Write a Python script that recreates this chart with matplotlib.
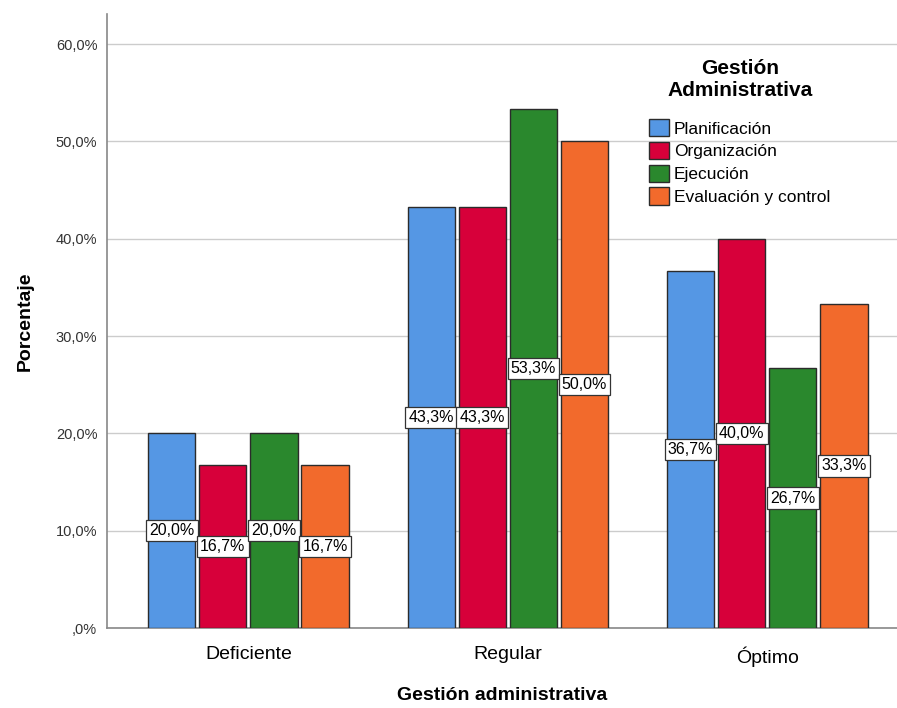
import numpy as np
import matplotlib.pyplot as plt
from matplotlib.ticker import FuncFormatter

# Datos del gráfico de barras agrupadas
categorias = ['Deficiente', 'Regular', 'Óptimo']
series = ['Planificación', 'Organización', 'Ejecución', 'Evaluación y control']
planificacion = [20.0, 43.3, 36.7]
organizacion = [16.7, 43.3, 40.0]
ejecucion = [20.0, 53.3, 26.7]
evaluacion = [16.7, 50.0, 33.3]
valores = [planificacion, organizacion, ejecucion, evaluacion]
colores = ['#5597E4', '#D7003A', '#2A882D', '#F26A2C']

plt.rcParams['font.family'] = ['Liberation Sans', 'DejaVu Sans']

fig = plt.figure(figsize=(8.97, 7.08), dpi=100)
ax = fig.add_axes([107 / 897, 80 / 708, 790 / 897, 614 / 708])

x = np.arange(len(categorias))
ancho = 0.182
paso = 0.197
for i, (vals, col, nombre) in enumerate(zip(valores, colores, series)):
    pos = x + (i - 1.5) * paso
    ax.bar(pos, vals, width=ancho, color=col, edgecolor='#2b2b2b', linewidth=1.0,
           label=nombre, zorder=3)
    for xp, v in zip(pos, vals):
        ax.text(xp, v / 2, f'{v:.1f}%'.replace('.', ','), ha='center', va='center',
                fontsize=11.5, zorder=4,
                bbox=dict(boxstyle='square,pad=0.2', fc='white', ec='#333333', lw=0.9))

ax.set_xlim(-0.545, 2.5)
ax.set_ylim(0, 63.1)
ax.set_yticks(np.arange(0, 61, 10))
ax.yaxis.set_major_formatter(FuncFormatter(
    lambda v, p: ',0%' if v == 0 else f'{v:.1f}%'.replace('.', ',')))
ax.set_xticks(x)
ax.set_xticklabels(categorias, fontsize=14)
ax.tick_params(axis='y', labelsize=10.5, length=0, pad=7, colors='#333333')
ax.tick_params(axis='x', length=0, pad=13)
ax.grid(axis='y', color='#cccccc', linewidth=1.0, zorder=0)

for s in ['top', 'right']:
    ax.spines[s].set_visible(False)
for s in ['left', 'bottom']:
    ax.spines[s].set_color('#888888')
    ax.spines[s].set_linewidth(1.2)

ax.set_ylabel('Porcentaje', fontsize=14, fontweight='bold', labelpad=16)
ax.set_xlabel('Gestión administrativa', fontsize=14, fontweight='bold', labelpad=15)

leg = ax.legend(title='Gestión\nAdministrativa', loc='upper left',
                bbox_to_anchor=(0.686, 0.927), frameon=False, fontsize=12.5,
                handlelength=1.15, handleheight=1.15, handletextpad=0.3,
                labelspacing=0.3, borderaxespad=0, borderpad=0)
leg.get_title().set_fontweight('bold')
leg.get_title().set_fontsize(15)
leg.get_title().set_multialignment('center')
leg._legend_box.sep = 14

fig.savefig('out.png', dpi=100)
